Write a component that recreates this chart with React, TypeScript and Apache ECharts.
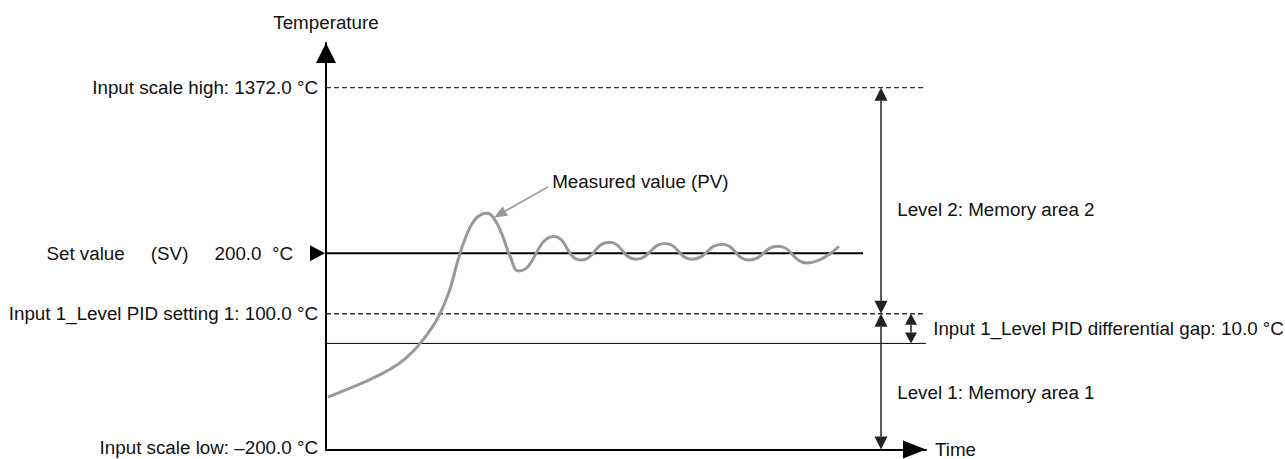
import React, { useEffect, useRef } from "react";
import * as echarts from "echarts";

// ---- data (schematic units: time 0..100, temperature-axis height 0..100) ----
const levelLabels = [
  "Input scale high: 1372.0 \u00b0C",
  "Set value     (SV)     200.0  \u00b0C",
  "Input 1_Level PID setting 1: 100.0 \u00b0C",
  "Input scale low: \u2013200.0 \u00b0C",
];
const levelPositions = [89.0, 48.3, 33.4, 0];
const gapLinePosition = 26.1;
const svLineEnd = 89.5;

const pvTime = [0.33, 4.0, 8.17, 12.0, 14.33, 15.67, 17.33, 19.0, 20.67, 22.0, 23.33, 24.67, 25.83, 26.83, 28.0, 29.33, 30.67, 32.17, 38.0, 42.5, 47.17, 51.67, 56.5, 61.0, 66.0, 70.5, 75.33, 80.17, 85.5];
const pvValue = [12.9, 15.1, 17.8, 21.0, 23.9, 26.1, 29.3, 33.4, 39.5, 46.6, 52.4, 56.3, 57.8, 58.1, 56.8, 52.9, 47.6, 43.9, 52.4, 46.6, 51.0, 46.8, 50.7, 46.8, 50.5, 46.6, 50.0, 45.9, 50.0];

const dimensionTimes = [92.5, 97.5];
const regionLabels = ["Level 2: Memory area 2", "Level 1: Memory area 1"];
const regionLabelTime = [95.2, 95.2];
const regionLabelHeight = [59.0, 14.1];
const gapLabel = "Input 1_Level PID differential gap: 10.0 \u00b0C";
const gapLabelTime = 101.2;
const pvLabel = "Measured value (PV)";
const pvLabelPoint = [37.7, 65.9];
const pvArrowTail = [37.0, 64.6];
const pvArrowTip = [28.0, 57.1];

const FONT = '"Liberation Sans", Arial, Helvetica, sans-serif';
const FS = 18.8;
const TEXT = "#111";

export default function App() {
  const ref = useRef<HTMLDivElement>(null);
  useEffect(() => {
    if (!ref.current) return;
    const chart = echarts.init(ref.current, null, { renderer: "svg" });

    const hLine = (y: number, end: number, color: string, width: number, type: any) => ({
      type: "line",
      data: [[0, y], [end, y]],
      symbol: "none",
      silent: true,
      animation: false,
      lineStyle: { color, width, type },
      z: 2,
    });

    const text = (x: number, y: number, t: string, align: string) => ({
      type: "text",
      x,
      y,
      style: { text: t, fill: TEXT, fontSize: FS, fontFamily: FONT, align, verticalAlign: "middle" },
    });
    const poly = (pts: number[][], fill: string) => ({
      type: "polygon",
      shape: { points: pts },
      style: { fill, stroke: "none" },
    });
    const seg = (x1: number, y1: number, x2: number, y2: number, stroke: string, lineWidth: number) => ({
      type: "line",
      shape: { x1, y1, x2, y2 },
      style: { stroke, lineWidth },
    });
    const dimArrow = (x: number, yTop: number, yBot: number, w: number, h: number, color: string) => [
      seg(x, yTop + h, x, yBot - h, color, 1.5),
      poly([[x, yTop], [x - w / 2, yTop + h], [x + w / 2, yTop + h]], color),
      poly([[x, yBot], [x - w / 2, yBot - h], [x + w / 2, yBot - h]], color),
    ];

    const option = {
      animation: false,
      backgroundColor: "#fff",
      grid: { left: 326, right: 359, top: 43, bottom: 6 },
      xAxis: {
        type: "value",
        min: 0,
        max: 100,
        name: "Time",
        nameLocation: "end",
        nameGap: 9,
        nameTextStyle: { color: TEXT, fontSize: FS, fontFamily: FONT, verticalAlign: "middle" },
        axisLine: {
          show: true,
          lineStyle: { color: "#000", width: 2 },
          symbol: ["none", "triangle"],
          symbolSize: [18, 23],
          symbolOffset: [0, -11.5],
        },
        axisTick: { show: false },
        axisLabel: { show: false },
        splitLine: { show: false },
      },
      yAxis: {
        type: "value",
        min: 0,
        max: 100,
        name: "Temperature",
        nameLocation: "end",
        nameGap: 11,
        nameTextStyle: { color: TEXT, fontSize: FS, fontFamily: FONT, align: "center" },
        axisLine: {
          show: true,
          lineStyle: { color: "#000", width: 2 },
          symbol: ["none", "triangle"],
          symbolSize: [20, 20],
          symbolOffset: [0, -10],
        },
        axisTick: { show: false },
        axisLabel: { show: false },
        splitLine: { show: false },
      },
      series: [
        hLine(levelPositions[0], 100, "#333", 1.3, [5, 3]),
        hLine(levelPositions[2], 100, "#333", 1.3, [5, 3]),
        hLine(gapLinePosition, 100, "#000", 1, "solid"),
        hLine(levelPositions[1], svLineEnd, "#000", 2, "solid"),
        {
          type: "line",
          name: "Measured value (PV)",
          data: pvTime.map((t, i) => [t, pvValue[i]]),
          smooth: 0.5,
          symbol: "none",
          silent: true,
          lineStyle: { color: "#999", width: 3 },
          z: 3,
        },
        {
          type: "custom",
          coordinateSystem: "cartesian2d",
          silent: true,
          z: 4,
          data: [[0, 0]],
          renderItem: (_params: any, api: any) => {
            const P = (x: number, y: number) => api.coord([x, y]);
            const children: any[] = [];
            // left level labels
            levelLabels.forEach((t, i) => {
              const p = P(0, levelPositions[i]);
              const gap = i === 1 ? 33 : 8;
              const dy = i === 3 ? -2 : 0;
              children.push(text(p[0] - gap, p[1] + dy, t, "right"));
            });
            // SV marker
            const sv = P(0, levelPositions[1]);
            children.push(poly([[sv[0] - 1, sv[1]], [sv[0] - 16, sv[1] - 8], [sv[0] - 16, sv[1] + 8]], "#000"));
            // dimension arrows
            const xBig = P(dimensionTimes[0], 0)[0];
            const yHigh = P(0, levelPositions[0])[1];
            const yPid = P(0, levelPositions[2])[1];
            const yLow = P(0, levelPositions[3])[1];
            const yGap = P(0, gapLinePosition)[1];
            children.push(...dimArrow(xBig, yHigh, yPid, 13, 13, "#222"));
            children.push(...dimArrow(xBig, yPid, yLow, 13, 13, "#222"));
            const xSmall = P(dimensionTimes[1], 0)[0];
            children.push(...dimArrow(xSmall, yPid, yGap, 12, 11, "#222"));
            // region labels
            regionLabels.forEach((t, i) => {
              const p = P(regionLabelTime[i], regionLabelHeight[i]);
              children.push(text(p[0], p[1], t, "left"));
            });
            const g = P(gapLabelTime, (levelPositions[2] + gapLinePosition) / 2);
            children.push(text(g[0], g[1], gapLabel, "left"));
            // PV annotation
            const lp = P(pvLabelPoint[0], pvLabelPoint[1]);
            children.push(text(lp[0], lp[1], pvLabel, "left"));
            const a = P(pvArrowTail[0], pvArrowTail[1]);
            const b = P(pvArrowTip[0], pvArrowTip[1]);
            const dx = b[0] - a[0];
            const dy = b[1] - a[1];
            const len = Math.sqrt(dx * dx + dy * dy);
            const ux = dx / len;
            const uy = dy / len;
            const hl = 13;
            const hw = 5.5;
            const bx = b[0] - ux * hl;
            const by = b[1] - uy * hl;
            children.push(seg(a[0], a[1], bx, by, "#999", 1.6));
            children.push(poly([[b[0], b[1]], [bx - uy * hw, by + ux * hw], [bx + uy * hw, by - ux * hw]], "#999"));
            return { type: "group", children };
          },
        },
      ],
    };
    chart.setOption(option as any);
    return () => chart.dispose();
  }, []);
  return (
    <div
      ref={ref}
      style={{ position: "absolute", left: 0, top: 0, width: 1285, height: 459, background: "#fff" }}
    />
  );
}
